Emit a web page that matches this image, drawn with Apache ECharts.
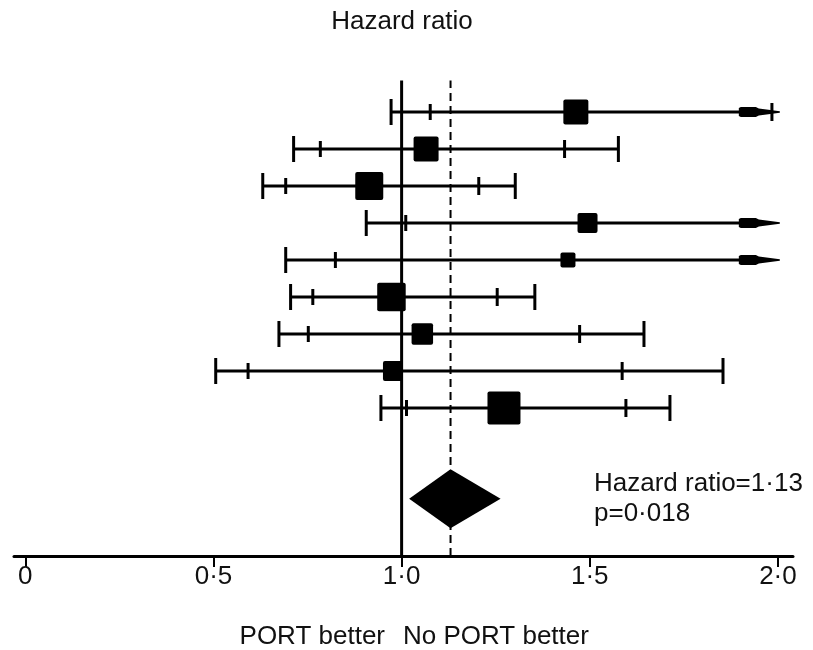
<!DOCTYPE html>
<html><head><meta charset="utf-8">
<script src="https://cdn.jsdelivr.net/npm/echarts@6/dist/echarts.min.js"></script>
<style>html,body{margin:0;padding:0;background:#fff}#c{width:813px;height:650px}</style>
</head><body><div id="c"></div>
<script>
// Forest plot data (hazard ratios with inner/outer confidence limits)
const rowY        = [12, 11, 10, 9, 8, 7, 6, 5, 4];
const ciLowOuter  = [0.972, 0.713, 0.631, 0.906, 0.692, 0.705, 0.674, 0.506, 0.945];
const ciLowInner  = [1.076, 0.784, 0.692, 1.011, 0.824, 0.764, 0.752, 0.592, 1.013];
const hazard      = [1.463, 1.065, 0.914, 1.494, 1.442, 0.973, 1.055, 0.977, 1.272];
const ciHighInner = [1.984, 1.433, 1.205, null, null, 1.254, 1.473, 1.586, 1.596];
const ciHighOuter = [null, 1.576, 1.302, null, null, 1.354, 1.644, 1.854, 1.713]; // null: beyond 2·0 (arrow)
const weight      = [25, 25, 28, 20, 15, 28.5, 21.5, 20, 33];
const pooled      = { hr: 1.13, low: 1.02, high: 1.263, y: 1.55 };
const xTicks      = [0, 0.5, 1.0, 1.5, 2.0];
const arrowTip    = 2.005;
const refTop      = 12.85;

const fmt = v => v === 0 ? '0' : v.toFixed(1).replace('.', '·');
const FONT = '"Liberation Sans", Arial, sans-serif';
const FS = 26;

const rows = rowY.map((y, i) => [ciLowOuter[i], ciLowInner[i], hazard[i], ciHighInner[i], ciHighOuter[i], weight[i], y]);

const chart = echarts.init(document.getElementById('c'), null, { renderer: 'canvas' });
chart.setOption({
  animation: false,
  backgroundColor: '#fff',
  grid: { left: 14, right: 20, top: 75, bottom: 94 },
  xAxis: {
    type: 'value', min: -0.03, max: 2.04,
    splitLine: { show: false },
    axisLine: { show: true, lineStyle: { color: '#000', width: 3 } },
    axisTick: { show: true, customValues: xTicks, length: 11, lineStyle: { color: '#000', width: 2 } },
    axisLabel: { customValues: xTicks, formatter: fmt, color: '#111', fontFamily: FONT, fontSize: FS, margin: 8 }
  },
  yAxis: { type: 'value', min: 0, max: 13, show: false },
  graphic: [
    { type: 'text', x: 402, y: 22, style: { text: 'Hazard ratio', font: FS + 'px ' + FONT, fill: '#111', align: 'center', verticalAlign: 'middle' } },
    { type: 'text', x: 594, y: 484, style: { text: 'Hazard ratio=1·13', font: FS + 'px ' + FONT, fill: '#111', align: 'left', verticalAlign: 'middle' } },
    { type: 'text', x: 594, y: 514, style: { text: 'p=0·018', font: FS + 'px ' + FONT, fill: '#111', align: 'left', verticalAlign: 'middle' } },
    { type: 'text', x: 385, y: 637, style: { text: 'PORT better', font: FS + 'px ' + FONT, fill: '#111', align: 'right', verticalAlign: 'middle' } },
    { type: 'text', x: 403, y: 637, style: { text: 'No PORT better', font: FS + 'px ' + FONT, fill: '#111', align: 'left', verticalAlign: 'middle' } }
  ],
  series: [
    { type: 'line', data: [[1, 0], [1, refTop]], symbol: 'none', lineStyle: { color: '#000', width: 3 }, z: 1 },
    { type: 'line', data: [[pooled.hr, 0], [pooled.hr, refTop]], symbol: 'none', lineStyle: { color: '#000', width: 2, type: [8, 5] }, z: 1 },
    {
      type: 'custom', z: 3,
      data: rows,
      renderItem: (params, api) => {
        const y = api.value(6);
        const lo = api.coord([api.value(0), y]);
        const loIn = api.coord([api.value(1), y]);
        const c = api.coord([api.value(2), y]);
        const hiInV = api.value(3), hiOutV = api.value(4);
        const size = api.value(5);
        const py = lo[1];
        const children = [];
        const ls = { stroke: '#000', lineWidth: 3 };
        const arrow = (hiOutV == null || isNaN(hiOutV));
        const endX = api.coord([arrow ? arrowTip : hiOutV, y])[0];
        children.push({ type: 'line', shape: { x1: lo[0], y1: py, x2: arrow ? endX - 20 : endX, y2: py }, style: ls });
        children.push({ type: 'line', shape: { x1: lo[0], y1: py - 13, x2: lo[0], y2: py + 13 }, style: ls });
        children.push({ type: 'line', shape: { x1: loIn[0], y1: py - 8, x2: loIn[0], y2: py + 8 }, style: ls });
        if (hiInV != null && !isNaN(hiInV)) {
          const hi = api.coord([hiInV, y]);
          children.push({ type: 'line', shape: { x1: hi[0], y1: py - 9, x2: hi[0], y2: py + 9 }, style: ls });
        }
        if (arrow) {
          const t = endX;
          children.push({ type: 'polygon', shape: { points: [[t - 41, py - 4], [t - 39, py - 5], [t - 24, py - 5], [t - 21, py - 3.5], [t, py - 0.8], [t, py + 0.8], [t - 21, py + 3.5], [t - 24, py + 5], [t - 39, py + 5], [t - 41, py + 4]] }, style: { fill: '#000' } });
        } else {
          children.push({ type: 'line', shape: { x1: endX, y1: py - 13, x2: endX, y2: py + 13 }, style: ls });
        }
        children.push({ type: 'rect', shape: { x: c[0] - size / 2, y: py - size / 2, width: size, height: size, r: 2 }, style: { fill: '#000' } });
        return { type: 'group', children };
      }
    },
    {
      type: 'custom', z: 4,
      data: [[pooled.low, pooled.hr, pooled.high, pooled.y]],
      renderItem: (params, api) => {
        const y = api.value(3);
        const l = api.coord([api.value(0), y]);
        const m = api.coord([api.value(1), y]);
        const r = api.coord([api.value(2), y]);
        const h = 29.5;
        return { type: 'polygon', shape: { points: [[l[0], l[1]], [m[0], m[1] - h], [r[0], r[1]], [m[0], m[1] + h]] }, style: { fill: '#000' } };
      }
    }
  ]
});
</script></body></html>
